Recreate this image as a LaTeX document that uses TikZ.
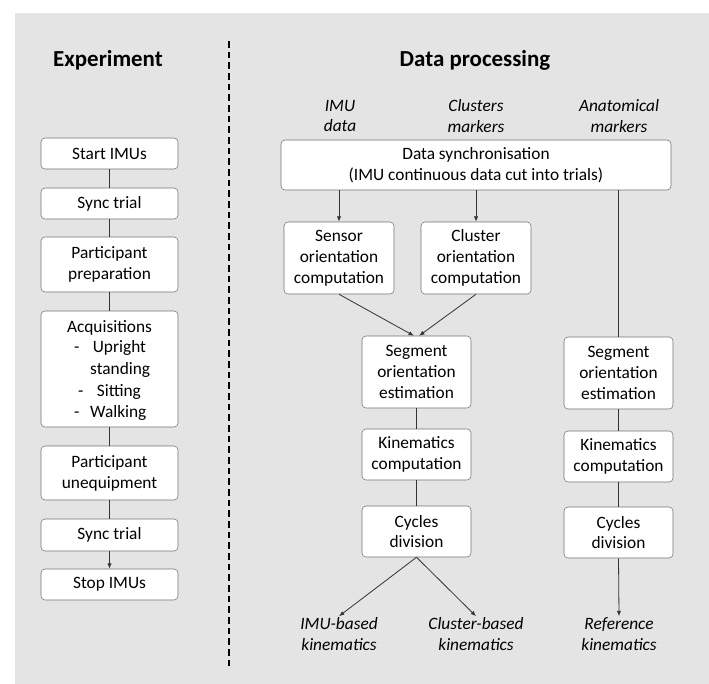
\documentclass[tikz,border=0pt]{standalone}
\usepackage{fontspec}
\setmainfont{Carlito}
\usetikzlibrary{arrows.meta}

\definecolor{panelgray}{HTML}{E4E4E4}
\tikzset{
  stepbox/.style={draw=black!55, fill=white, rounded corners=3pt, align=center,
    inner sep=1pt, font=\fontsize{13}{15.6}\selectfont},
  leftbox/.style={stepbox, minimum width=102.75pt},
  rightbox/.style={stepbox, minimum width=81.75pt},
  srclabel/.style={align=center, inner sep=1pt, font=\fontsize{13}{15.2}\selectfont\itshape},
  title/.style={font=\fontsize{17.2}{20}\selectfont\bfseries},
  link/.style={draw=black!80, line width=0.6pt},
  flow/.style={link, -{Latex[length=4pt,width=3.2pt]}}
}

\begin{document}
\begin{tikzpicture}[x=0.75pt, y=-0.75pt]
      \useasboundingbox (0,0) rectangle (709,684);
      \fill[panelgray] (15,13) rectangle (709,684);
      % separation of the two parts
      \coordinate (septop) at (229,41);
      \coordinate (sepbot) at (229,670);
      \draw[line width=1.6pt, dash pattern=on 5pt off 3pt] (septop) -- (sepbot);
      \node[title] (expt) at (108,60) {Experiment};
      \node[title] (proc) at (475,60) {Data processing};

      % experiment protocol
      \node[leftbox, minimum height=23.25pt] (start) at (109.5,153.5) {Start IMUs};
      \node[leftbox, minimum height=23.25pt] (sync1) at (109.5,203.5) {Sync trial};
      \node[leftbox, minimum height=41.25pt] (prep) at (109.5,264.5) {Participant\\preparation};
      \node[leftbox, minimum height=87pt] (acq) at (109.5,369) {\rule{0pt}{14.5pt}Acquisitions\\
        \renewcommand{\arraystretch}{1.05}%
        \begin{tabular}{@{\hspace{4pt}}l@{\hspace{5pt}}l@{}}
        -&\hspace{2pt}Upright\\ &standing\\ \hspace{3pt}-&\hspace{5pt}Sitting\\ -&Walking
        \end{tabular}};
      \node[leftbox, minimum height=40.5pt] (uneq) at (109.5,473) {Participant\\unequipment};
      \node[leftbox, minimum height=24pt] (sync2) at (109.5,535) {Sync trial};
      \node[leftbox, minimum height=23.25pt] (stop) at (109.5,584.5) {Stop IMUs};
      \draw[link] (start) -- (sync1);
      \draw[link] (sync1) -- (prep);
      \draw[link] (prep) -- (acq);
      \draw[link] (acq) -- (uneq);
      \draw[link] (uneq) -- (sync2);
      \draw[flow] (sync2) -- (stop);

      % data sources
      \node[srclabel] (imudata) at (340,116) {IMU\\data};
      \node[srclabel] (clusdata) at (476,116) {Clusters\\markers};
      \node[srclabel] (anatdata) at (619,116) {Anatomical\\markers};

      % processing chain
      \node[stepbox, minimum width=292.5pt, minimum height=37.5pt] (sync) at (476,165)
        {Data synchronisation\\(IMU continuous data cut into trials)};
      \node[rightbox, minimum width=82.5pt, minimum height=54pt] (sensor) at (339,258)
        {Sensor\\orientation\\computation};
      \node[rightbox, minimum width=82.5pt, minimum height=54pt] (cluster) at (476,258)
        {Cluster\\orientation\\computation};
      \node[rightbox, minimum height=54pt] (segA) at (416.5,372) {Segment\\orientation\\estimation};
      \node[rightbox, minimum height=38.25pt] (kinA) at (416.5,454.5) {Kinematics\\computation};
      \node[rightbox, minimum height=38.25pt] (cycA) at (416.5,531.5) {Cycles\\division};
      \node[rightbox, minimum height=54pt] (segR) at (618.5,373) {Segment\\orientation\\estimation};
      \node[rightbox, minimum height=38.25pt] (kinR) at (618.5,456.5) {Kinematics\\computation};
      \node[rightbox, minimum height=38.25pt] (cycR) at (618.5,532.5) {Cycles\\division};

      % results
      \node[srclabel] (imuout) at (339,634) {IMU-based\\kinematics};
      \node[srclabel] (clusout) at (476,634) {Cluster-based\\kinematics};
      \node[srclabel] (refout) at (619,634) {Reference\\kinematics};

      \draw[flow] (sensor.north |- sync.south) -- (sensor.north);
      \draw[flow] (cluster.north |- sync.south) -- (cluster.north);
      \draw[link] (segR.north |- sync.south) -- (segR.north);
      \draw[flow] (sensor.south) -- ([xshift=-2pt]segA.north);
      \draw[flow] (cluster.south) -- ([xshift=2pt]segA.north);
      \draw[link] (segA) -- (kinA);
      \draw[link] (kinA) -- (cycA);
      \draw[link] (segR) -- (kinR);
      \draw[link] (kinR) -- (cycR);
      \draw[flow] (cycA.south) -- (imuout.north);
      \draw[flow] (cycA.south) -- (clusout.north);
      \draw[flow] (cycR.south) -- (refout.north);
    \end{tikzpicture}
\end{document}
